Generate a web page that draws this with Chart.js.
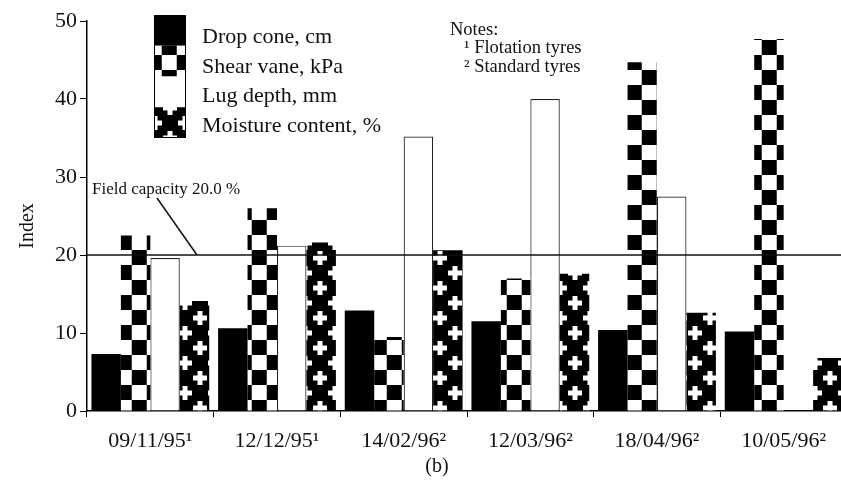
<!DOCTYPE html>
<html><head><meta charset="utf-8">
<script src="https://cdn.jsdelivr.net/npm/chart.js@4/dist/chart.umd.min.js"></script>
<style>
html,body{margin:0;padding:0;background:#fff;overflow:hidden;}
#wrap{position:relative;width:850px;height:480px;}
canvas{display:block;}
</style></head><body>
<div id="wrap"><canvas id="c" width="850" height="480"></canvas></div>
<script>
// ---- data ----
const categories = ['09/11/95¹','12/12/95¹','14/02/96²','12/03/96²','18/04/96²','10/05/96²'];
const dropCone  = [7.3, 10.6, 12.9, 11.5, 10.4, 10.2];
const shearVane = [22.5, 26.0, 9.5, 17.0, 44.7, 47.7];
const lugDepth  = [19.6, 21.2, 35.2, 40.0, 27.5, null];
const moisture  = [14.1, 21.6, 20.6, 17.6, 12.6, 6.8];
const seriesNames = ['Drop cone, cm','Shear vane, kPa','Lug depth, mm','Moisture content, %'];
const yTicks = [0,10,20,30,40,50];
const fieldCapacity = 20.0;
const fieldLabel = 'Field capacity 20.0 %';
const notesLines = ['Notes:','¹ Flotation tyres','² Standard tyres'];
const yTitle = 'Index';
const subLabel = '(b)';

// ---- patterns ----
const SERIF = "'Liberation Serif','Times New Roman',serif";
const INK = '#111';
function makeChecker(){
  const c=document.createElement('canvas'); c.width=30; c.height=30;
  const g=c.getContext('2d');
  g.fillStyle='#fff'; g.fillRect(0,0,30,30);
  g.fillStyle='#000'; g.fillRect(0,0,15,15); g.fillRect(15,15,15,15);
  return c;
}
function makePlus(){
  const c=document.createElement('canvas'); c.width=30; c.height=30;
  const g=c.getContext('2d');
  g.fillStyle='#000'; g.fillRect(0,0,30,30);
  g.fillStyle='#fff';
  const pts=[[15,15],[0,0],[30,0],[0,30],[30,30]];
  for(const [x,y] of pts){
    g.fillRect(x-7,y-2.5,14,5);
    g.fillRect(x-2.5,y-7,5,14);
  }
  return c;
}
const ctx=document.getElementById('c').getContext('2d');
const checker=ctx.createPattern(makeChecker(),'repeat');
const plus=ctx.createPattern(makePlus(),'repeat');
try{ checker.setTransform(new DOMMatrix().translate(11.7,10)); plus.setTransform(new DOMMatrix().translate(5,3)); }catch(e){}
const fills=['#000',checker,'#fff',plus];

const overlay={
  id:'overlay',
  afterDatasetsDraw(chart){
    const g=chart.ctx, a=chart.chartArea, y=chart.scales.y;
    const yf=y.getPixelForValue(fieldCapacity);
    g.save();
    // field capacity line
    g.strokeStyle=INK; g.lineWidth=1.5;
    g.beginPath(); g.moveTo(a.left,yf); g.lineTo(a.right,yf); g.stroke();
    g.beginPath(); g.moveTo(157,198); g.lineTo(197,yf); g.stroke();
    g.fillStyle=INK; g.font='17px '+SERIF; g.textBaseline='alphabetic'; g.textAlign='left';
    g.fillText(fieldLabel,92,194);
    // legend
    const lx=154, lw=32, ly=15, lh=30.75;
    for(let i=0;i<4;i++){
      g.fillStyle=fills[i];
      g.fillRect(lx,ly+lh*i,lw,lh);
    }
    g.strokeStyle='#000'; g.lineWidth=1;
    g.strokeRect(lx+0.5,ly+0.5,lw-1,lh*4-1);
    g.fillStyle=INK; g.font='22px '+SERIF;
    const base=[43,72.5,102,131.5];
    for(let i=0;i<4;i++) g.fillText(seriesNames[i],202,base[i]);
    // notes
    g.font='18.5px '+SERIF;
    g.fillText(notesLines[0],450,35);
    g.fillText(notesLines[1],464,53);
    g.fillText(notesLines[2],464,72);
    // y title
    g.font='20px '+SERIF; g.textAlign='center';
    g.save(); g.translate(33,226); g.rotate(-Math.PI/2); g.fillText(yTitle,0,0); g.restore();
    // sub label
    g.fillText(subLabel,437,472);
    g.restore();
  }
};

new Chart(ctx,{
  type:'bar',
  data:{labels:categories,datasets:[
    {label:seriesNames[0],data:dropCone,backgroundColor:fills[0],borderWidth:0},
    {label:seriesNames[1],data:shearVane,backgroundColor:fills[1],borderWidth:0},
    {label:seriesNames[2],data:lugDepth,backgroundColor:fills[2],borderColor:'#222',
      borderWidth:(c)=> (c.raw==null ? 0 : 1.2)},
    {label:seriesNames[3],data:moisture,backgroundColor:fills[3],borderWidth:0}
  ]},
  options:{
    responsive:false, animation:false, devicePixelRatio:1,
    layout:{padding:{top:21,right:3,left:0,bottom:0}},
    plugins:{legend:{display:false},tooltip:{enabled:false}},
    datasets:{bar:{categoryPercentage:0.93,barPercentage:1.0}},
    scales:{
      x:{
        grid:{display:true,drawOnChartArea:false,drawTicks:true,tickLength:6,color:'#000',offset:true},
        border:{display:true,color:'#000',width:1.5},
        ticks:{font:{family:SERIF,size:22},color:INK,padding:11,maxRotation:0,autoSkip:false},
        afterFit(s){s.height=69;}
      },
      y:{
        min:0,max:50,
        afterBuildTicks(s){s.ticks=yTicks.map(v=>({value:v}));},
        grid:{drawOnChartArea:false,tickLength:7,color:'#000'},
        border:{display:true,color:'#000',width:1.5},
        ticks:{font:{family:SERIF,size:22},color:INK,padding:3},
        afterFit(s){s.width=87;}
      }
    }
  },
  plugins:[overlay]
});
</script>
</body></html>
